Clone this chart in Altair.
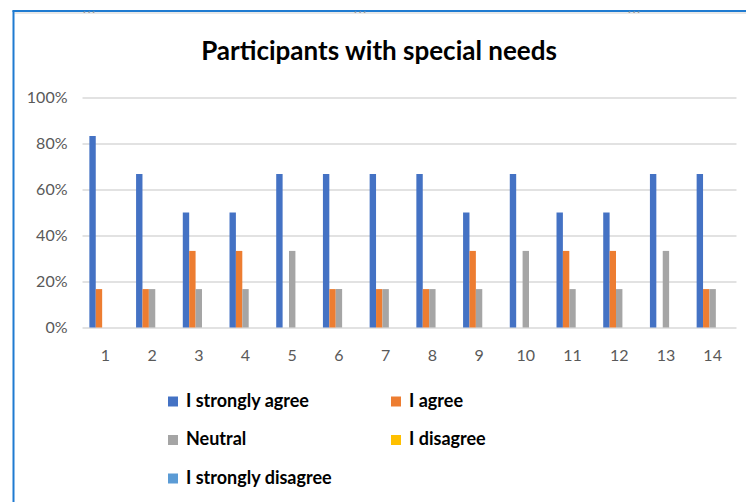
import altair as alt
import pandas as pd

categories = [str(i) for i in range(1, 15)]
series = ["I strongly agree", "I agree", "Neutral", "I disagree", "I strongly disagree"]
colors = ["#4472C4", "#ED7D31", "#A5A5A5", "#FFC000", "#5B9BD5"]

strongly_agree = [0.833, 0.667, 0.5, 0.5, 0.667, 0.667, 0.667, 0.667, 0.5, 0.667, 0.5, 0.5, 0.667, 0.667]
agree = [0.167, 0.167, 0.333, 0.333, 0.0, 0.167, 0.167, 0.167, 0.333, 0.0, 0.333, 0.333, 0.0, 0.167]
neutral = [0.0, 0.167, 0.167, 0.167, 0.333, 0.167, 0.167, 0.167, 0.167, 0.333, 0.167, 0.167, 0.333, 0.167]
disagree = [0.0] * 14
strongly_disagree = [0.0] * 14

title_text = "Participants with special needs"

rows = []
for name, vals in zip(series, [strongly_agree, agree, neutral, disagree, strongly_disagree]):
    for c, v in zip(categories, vals):
        rows.append({"Question": c, "Answer": name, "Share": v})
df = pd.DataFrame(rows)

W, H = 654, 230
FONT = "Lato"

bars = alt.Chart(df).mark_bar().encode(
    x=alt.X("Question:N", sort=categories,
            scale=alt.Scale(paddingInner=0.315, paddingOuter=0.1575),
            axis=alt.Axis(title=None, labelAngle=0, domain=False, ticks=False,
                          labelPadding=20, labelFontSize=16, labelColor="#595959",
                          labelFont=FONT, grid=False)),
    xOffset=alt.XOffset("Answer:N", sort=series, scale=alt.Scale(domain=series)),
    y=alt.Y("Share:Q", scale=alt.Scale(domain=[0, 1]),
            axis=alt.Axis(title=None, format=".0%", values=[0, 0.2, 0.4, 0.6, 0.8, 1.0],
                          domain=False, ticks=False, labelPadding=15, labelFontSize=16,
                          labelColor="#595959", labelFont=FONT,
                          gridColor="#d9d9d9", gridWidth=1.5)),
    color=alt.Color("Answer:N", sort=series,
                    scale=alt.Scale(domain=series, range=colors),
                    legend=alt.Legend(title=None, orient="none", legendX=82, legendY=295,
                                      direction="horizontal", columns=2, columnPadding=54,
                                      rowPadding=20.5, symbolType="square", symbolSize=100,
                                      symbolStrokeWidth=0, labelOffset=4,
                                      labelFontSize=18, labelFontWeight="bold",
                                      labelFont=FONT, labelColor="#000000", labelLimit=300)),
)

deco = pd.DataFrame({"t": [title_text]})
title = alt.Chart(deco).mark_text(font=FONT, fontSize=26, fontWeight="bold", color="#000000",
                                  align="center", baseline="alphabetic").encode(
    text="t:N", x=alt.value(297), y=alt.value(-38))
left_border = alt.Chart(deco).mark_rule(color="#1f7bd1", strokeWidth=2).encode(
    x=alt.value(-68.5), y=alt.value(-87), y2=alt.value(410))
top_border = alt.Chart(deco).mark_rule(color="#1f7bd1", strokeWidth=2).encode(
    x=alt.value(-69.5), x2=alt.value(670), y=alt.value(-86.5))
top_band = alt.Chart(deco).mark_rule(color="#e8e8e8", strokeWidth=2).encode(
    x=alt.value(-67.5), x2=alt.value(670), y=alt.value(-84.5))

dots = pd.DataFrame({"x": [7, 278, 552]})
handles = alt.Chart(dots).mark_text(text="···", fontSize=14, color="#9a9a9a").encode(
    x=alt.X("x:Q", scale=None), y=alt.value(-86))

chart = alt.layer(top_band, bars, title, left_border, top_border, handles).properties(
    width=W, height=H,
    autosize=alt.AutoSizeParams(type="none"),
    padding={"left": 82, "top": 97.5, "right": 10, "bottom": 174.5},
).configure_view(stroke=None)

chart.save("out.html", embed_options={"renderer": "svg", "actions": False})
